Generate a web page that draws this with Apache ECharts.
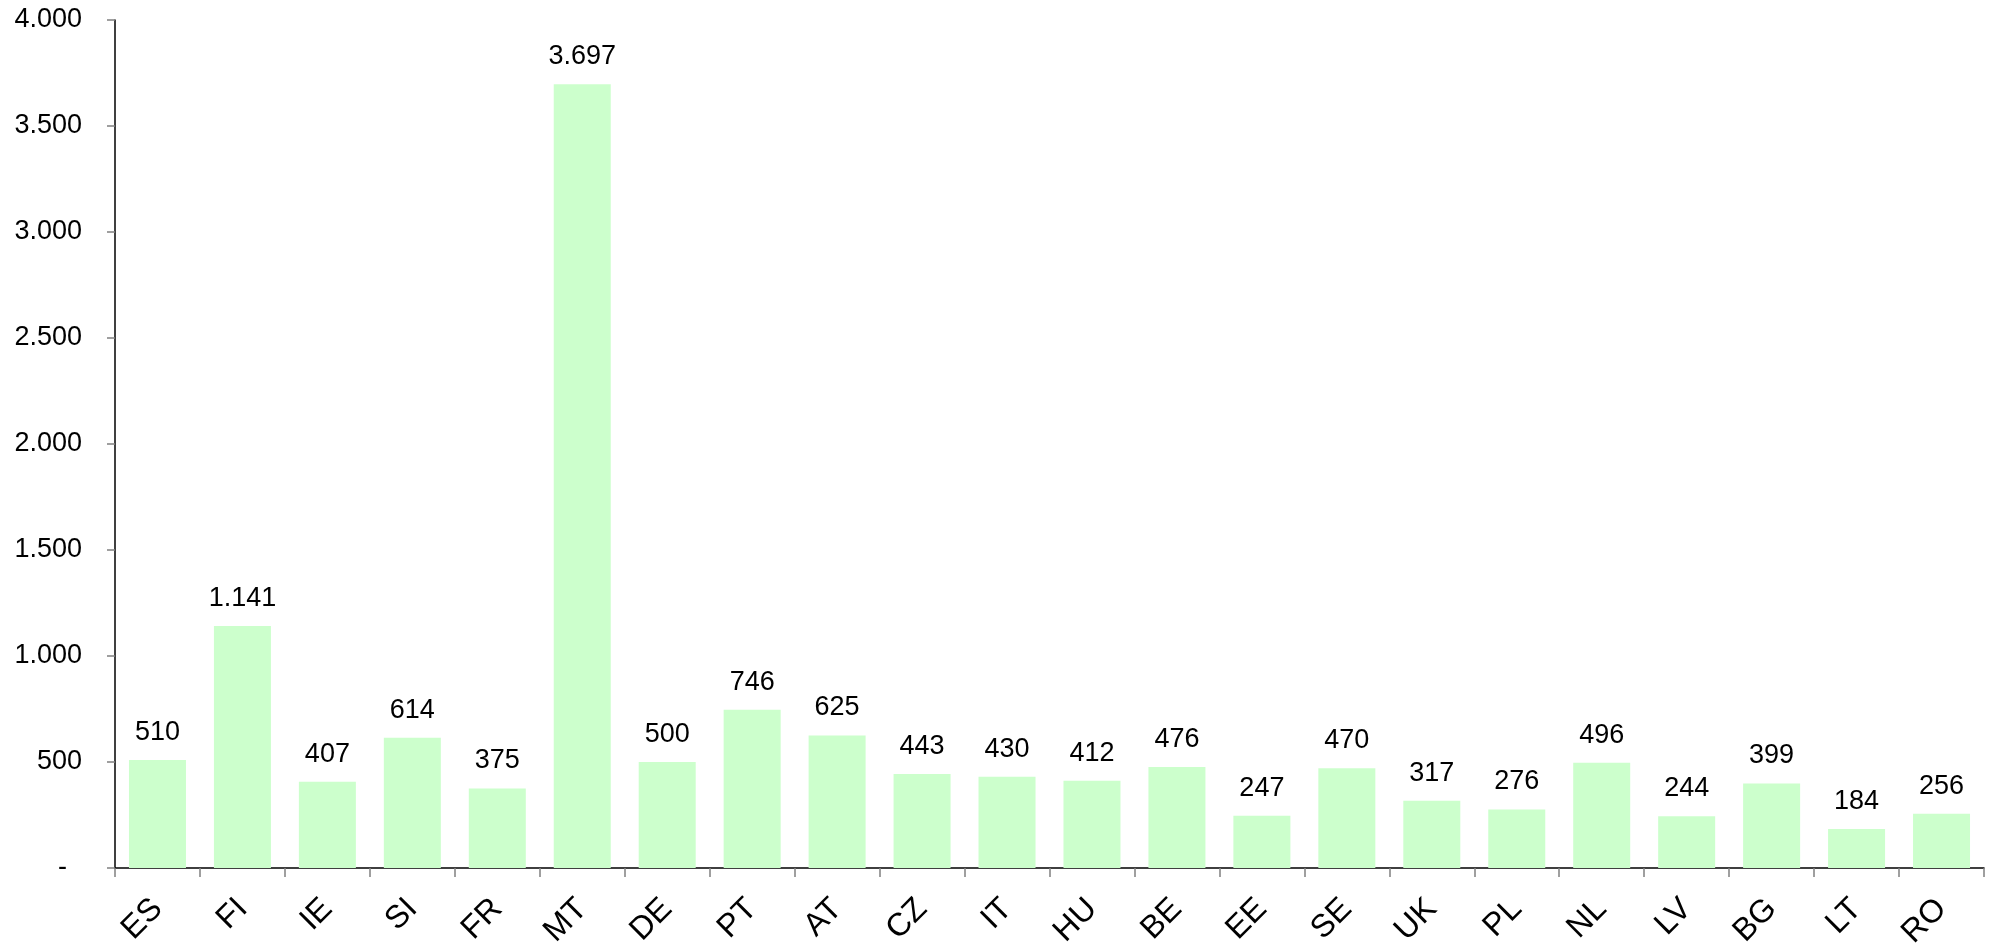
<!DOCTYPE html>
<html>
<head>
<meta charset="utf-8">
<script src="https://cdn.jsdelivr.net/npm/echarts@6/dist/echarts.min.js"></script>
<style>
  html, body { margin: 0; padding: 0; background: #fff; }
  #chart { width: 1991px; height: 944px; }
</style>
</head>
<body>
<div id="chart"></div>
<script>
// Country codes along the x-axis
const countries = ['ES', 'FI', 'IE', 'SI', 'FR', 'MT', 'DE', 'PT', 'AT', 'CZ', 'IT',
  'HU', 'BE', 'EE', 'SE', 'UK', 'PL', 'NL', 'LV', 'BG', 'LT', 'RO'];
// Value per country
const values = [510, 1141, 407, 614, 375, 3697, 500, 746, 625, 443, 430,
  412, 476, 247, 470, 317, 276, 496, 244, 399, 184, 256];
// Y-axis ticks
const yTicks = [0, 500, 1000, 1500, 2000, 2500, 3000, 3500, 4000];

// Thousands separated with a dot
function fmt(v) {
  return String(Math.round(v)).replace(/\B(?=(\d{3})+(?!\d))/g, '.');
}

const font = 'Liberation Sans, Arial, sans-serif';
const chart = echarts.init(document.getElementById('chart'));
chart.setOption({
  animation: false,
  grid: {
    left: 115, right: 7, top: 20, bottom: 76,
    containLabel: false, outerBoundsMode: 'none'
  },
  xAxis: {
    type: 'category',
    data: countries,
    boundaryGap: true,
    axisLine: { lineStyle: { color: '#000', width: 1.5 } },
    axisTick: { show: true, length: 9, lineStyle: { color: '#808080', width: 1.5 } },
    axisLabel: {
      rotate: 45, margin: 36, interval: 0,
      fontFamily: font, fontSize: 32, color: '#000'
    }
  },
  yAxis: {
    type: 'value',
    min: yTicks[0],
    max: yTicks[yTicks.length - 1],
    interval: yTicks[1] - yTicks[0],
    splitLine: { show: false },
    axisLine: { show: true, lineStyle: { color: '#000', width: 1.5 } },
    axisTick: { show: true, length: 8, lineStyle: { color: '#808080', width: 1.5 } },
    axisLabel: {
      margin: 33, fontFamily: font, fontSize: 27, color: '#000',
      formatter: function (v) { return v === 0 ? '{dash|-}' : fmt(v); },
      rich: { dash: { fontFamily: font, fontSize: 27, color: '#000', padding: [0, 15, 0, 0] } }
    }
  },
  series: [{
    type: 'bar',
    data: values,
    barWidth: 57,
    itemStyle: { color: '#CCFFCC' },
    label: {
      show: true, position: 'top', distance: 14,
      fontFamily: font, fontSize: 27, color: '#000',
      formatter: function (p) { return fmt(p.value); }
    }
  }]
});
</script>
</body>
</html>
